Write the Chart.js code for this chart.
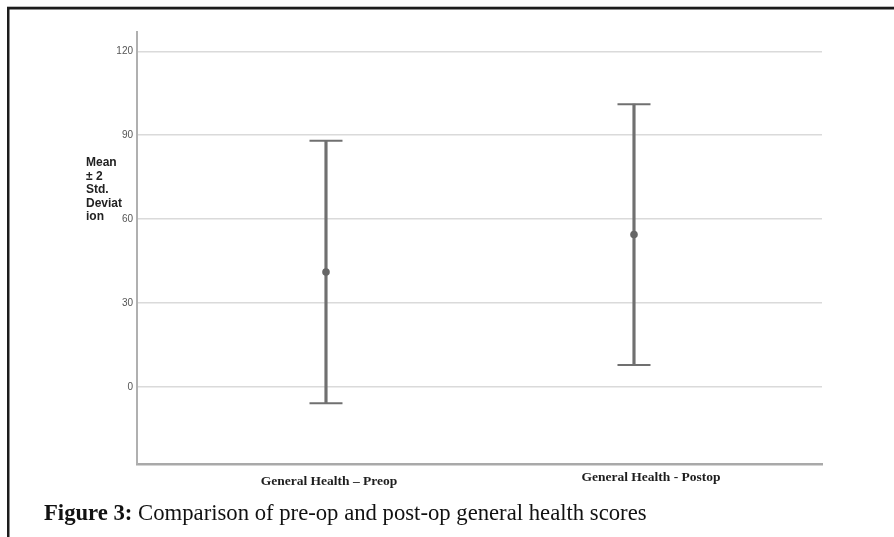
<!DOCTYPE html>
<html>
<head>
<meta charset="utf-8">
<script src="https://cdn.jsdelivr.net/npm/chart.js@4/dist/chart.umd.min.js"></script>
<style>
  html, body { margin: 0; padding: 0; background: #ffffff; }
  #wrap { position: relative; width: 894px; height: 537px; }
  canvas { display: block; }
</style>
</head>
<body>
<div id="wrap"><canvas id="chart" width="894" height="537"></canvas></div>
<script>
// General health scores, mean ± 2 SD
const categories = ['General Health \u2013 Preop', 'General Health - Postop'];
const means = [41.1, 54.5];
const stdDevs = [23.45, 23.3];
const yTickValues = [0, 30, 60, 90, 120];
const yTitleLines = ['Mean', '\u00b1 2', 'Std.', 'Deviat', 'ion'];
const captionBold = 'Figure 3:';
const captionText = ' Comparison of pre-op and post-op general health scores';

const lower = means.map((m, i) => m - 2 * stdDevs[i]);
const upper = means.map((m, i) => m + 2 * stdDevs[i]);
const idx = categories.map((_, i) => i);

const GREY = '#707070';

// Page frame, y-axis title, category labels and figure caption
const decorations = {
  id: 'decorations',
  beforeDraw(chart) {
    const ctx = chart.ctx;
    ctx.save();
    ctx.fillStyle = '#ffffff';
    ctx.fillRect(0, 0, chart.width, chart.height);
    ctx.fillStyle = '#bdbdbd';
    ctx.fillRect(7, 6, chart.width - 7, 1);
    ctx.fillStyle = '#1c1c1c';
    ctx.fillRect(7, 7, chart.width - 7, 2.5);
    ctx.fillRect(7, 7, 2.5, chart.height - 7);
    ctx.restore();
  },
  afterDraw(chart) {
    const ctx = chart.ctx;
    const x = chart.scales.x;
    ctx.save();
    // y-axis title, stacked lines
    ctx.fillStyle = '#222222';
    ctx.font = 'bold 12px "Liberation Sans", Arial, sans-serif';
    ctx.textAlign = 'left';
    ctx.textBaseline = 'middle';
    yTitleLines.forEach((t, i) => ctx.fillText(t, 86, 163 + i * 13.5));
    // category labels under the axis
    ctx.font = 'bold 13.5px "Liberation Serif", "Times New Roman", serif';
    ctx.textAlign = 'center';
    ctx.fillStyle = '#1e1e1e';
    const shift = [3, 17];
    const yPos = [482, 478];
    categories.forEach((c, i) => {
      ctx.fillText(c, x.getPixelForValue(i) + shift[i], yPos[i]);
    });
    // caption
    ctx.textAlign = 'left';
    ctx.textBaseline = 'alphabetic';
    ctx.fillStyle = '#111111';
    ctx.font = 'bold 22.7px "Liberation Serif", "Times New Roman", serif';
    ctx.fillText(captionBold, 44, 520);
    const w = ctx.measureText(captionBold).width;
    ctx.font = '22.7px "Liberation Serif", "Times New Roman", serif';
    ctx.fillText(captionText, 44 + w, 520);
    ctx.restore();
  }
};

new Chart(document.getElementById('chart'), {
  type: 'bar',
  data: {
    datasets: [
      {
        type: 'bar',
        label: 'range',
        data: idx.map(i => ({ x: i, y: [lower[i], upper[i]] })),
        backgroundColor: GREY,
        borderWidth: 0,
        barThickness: 2.5,
        order: 3
      },
      {
        type: 'scatter',
        label: 'caps',
        data: idx.map(i => ({ x: i, y: lower[i] })).concat(idx.map(i => ({ x: i, y: upper[i] }))),
        pointStyle: 'line',
        pointRadius: 16.5,
        borderColor: GREY,
        borderWidth: 2,
        order: 2
      },
      {
        type: 'scatter',
        label: 'mean',
        data: idx.map(i => ({ x: i, y: means[i] })),
        pointStyle: 'circle',
        pointRadius: 3.8,
        backgroundColor: '#666666',
        borderColor: '#666666',
        borderWidth: 0,
        order: 1
      }
    ]
  },
  options: {
    responsive: false,
    animation: false,
    layout: { padding: { top: 32, right: 72, left: 0, bottom: 0 } },
    plugins: { legend: { display: false }, tooltip: { enabled: false } },
    scales: {
      x: {
        type: 'linear',
        offset: false,
        min: -0.6136,
        max: 1.6104,
        grid: { display: false, drawTicks: false },
        border: { display: true, color: '#a9a9a9', width: 2.5 },
        ticks: { display: false },
        afterFit(scale) { scale.height = 73; }
      },
      y: {
        type: 'linear',
        min: -27.5,
        max: 126.9,
        grid: { color: '#dadada', lineWidth: 1.5, drawTicks: false },
        border: { display: true, color: '#b0b0b0', width: 2 },
        ticks: {
          padding: 4,
          color: '#555555',
          font: { family: '"Liberation Sans", Arial, sans-serif', size: 10 }
        },
        afterBuildTicks(scale) { scale.ticks = yTickValues.map(v => ({ value: v })); },
        afterFit(scale) { scale.width = 137; }
      }
    }
  },
  plugins: [decorations]
});
</script>
</body>
</html>
